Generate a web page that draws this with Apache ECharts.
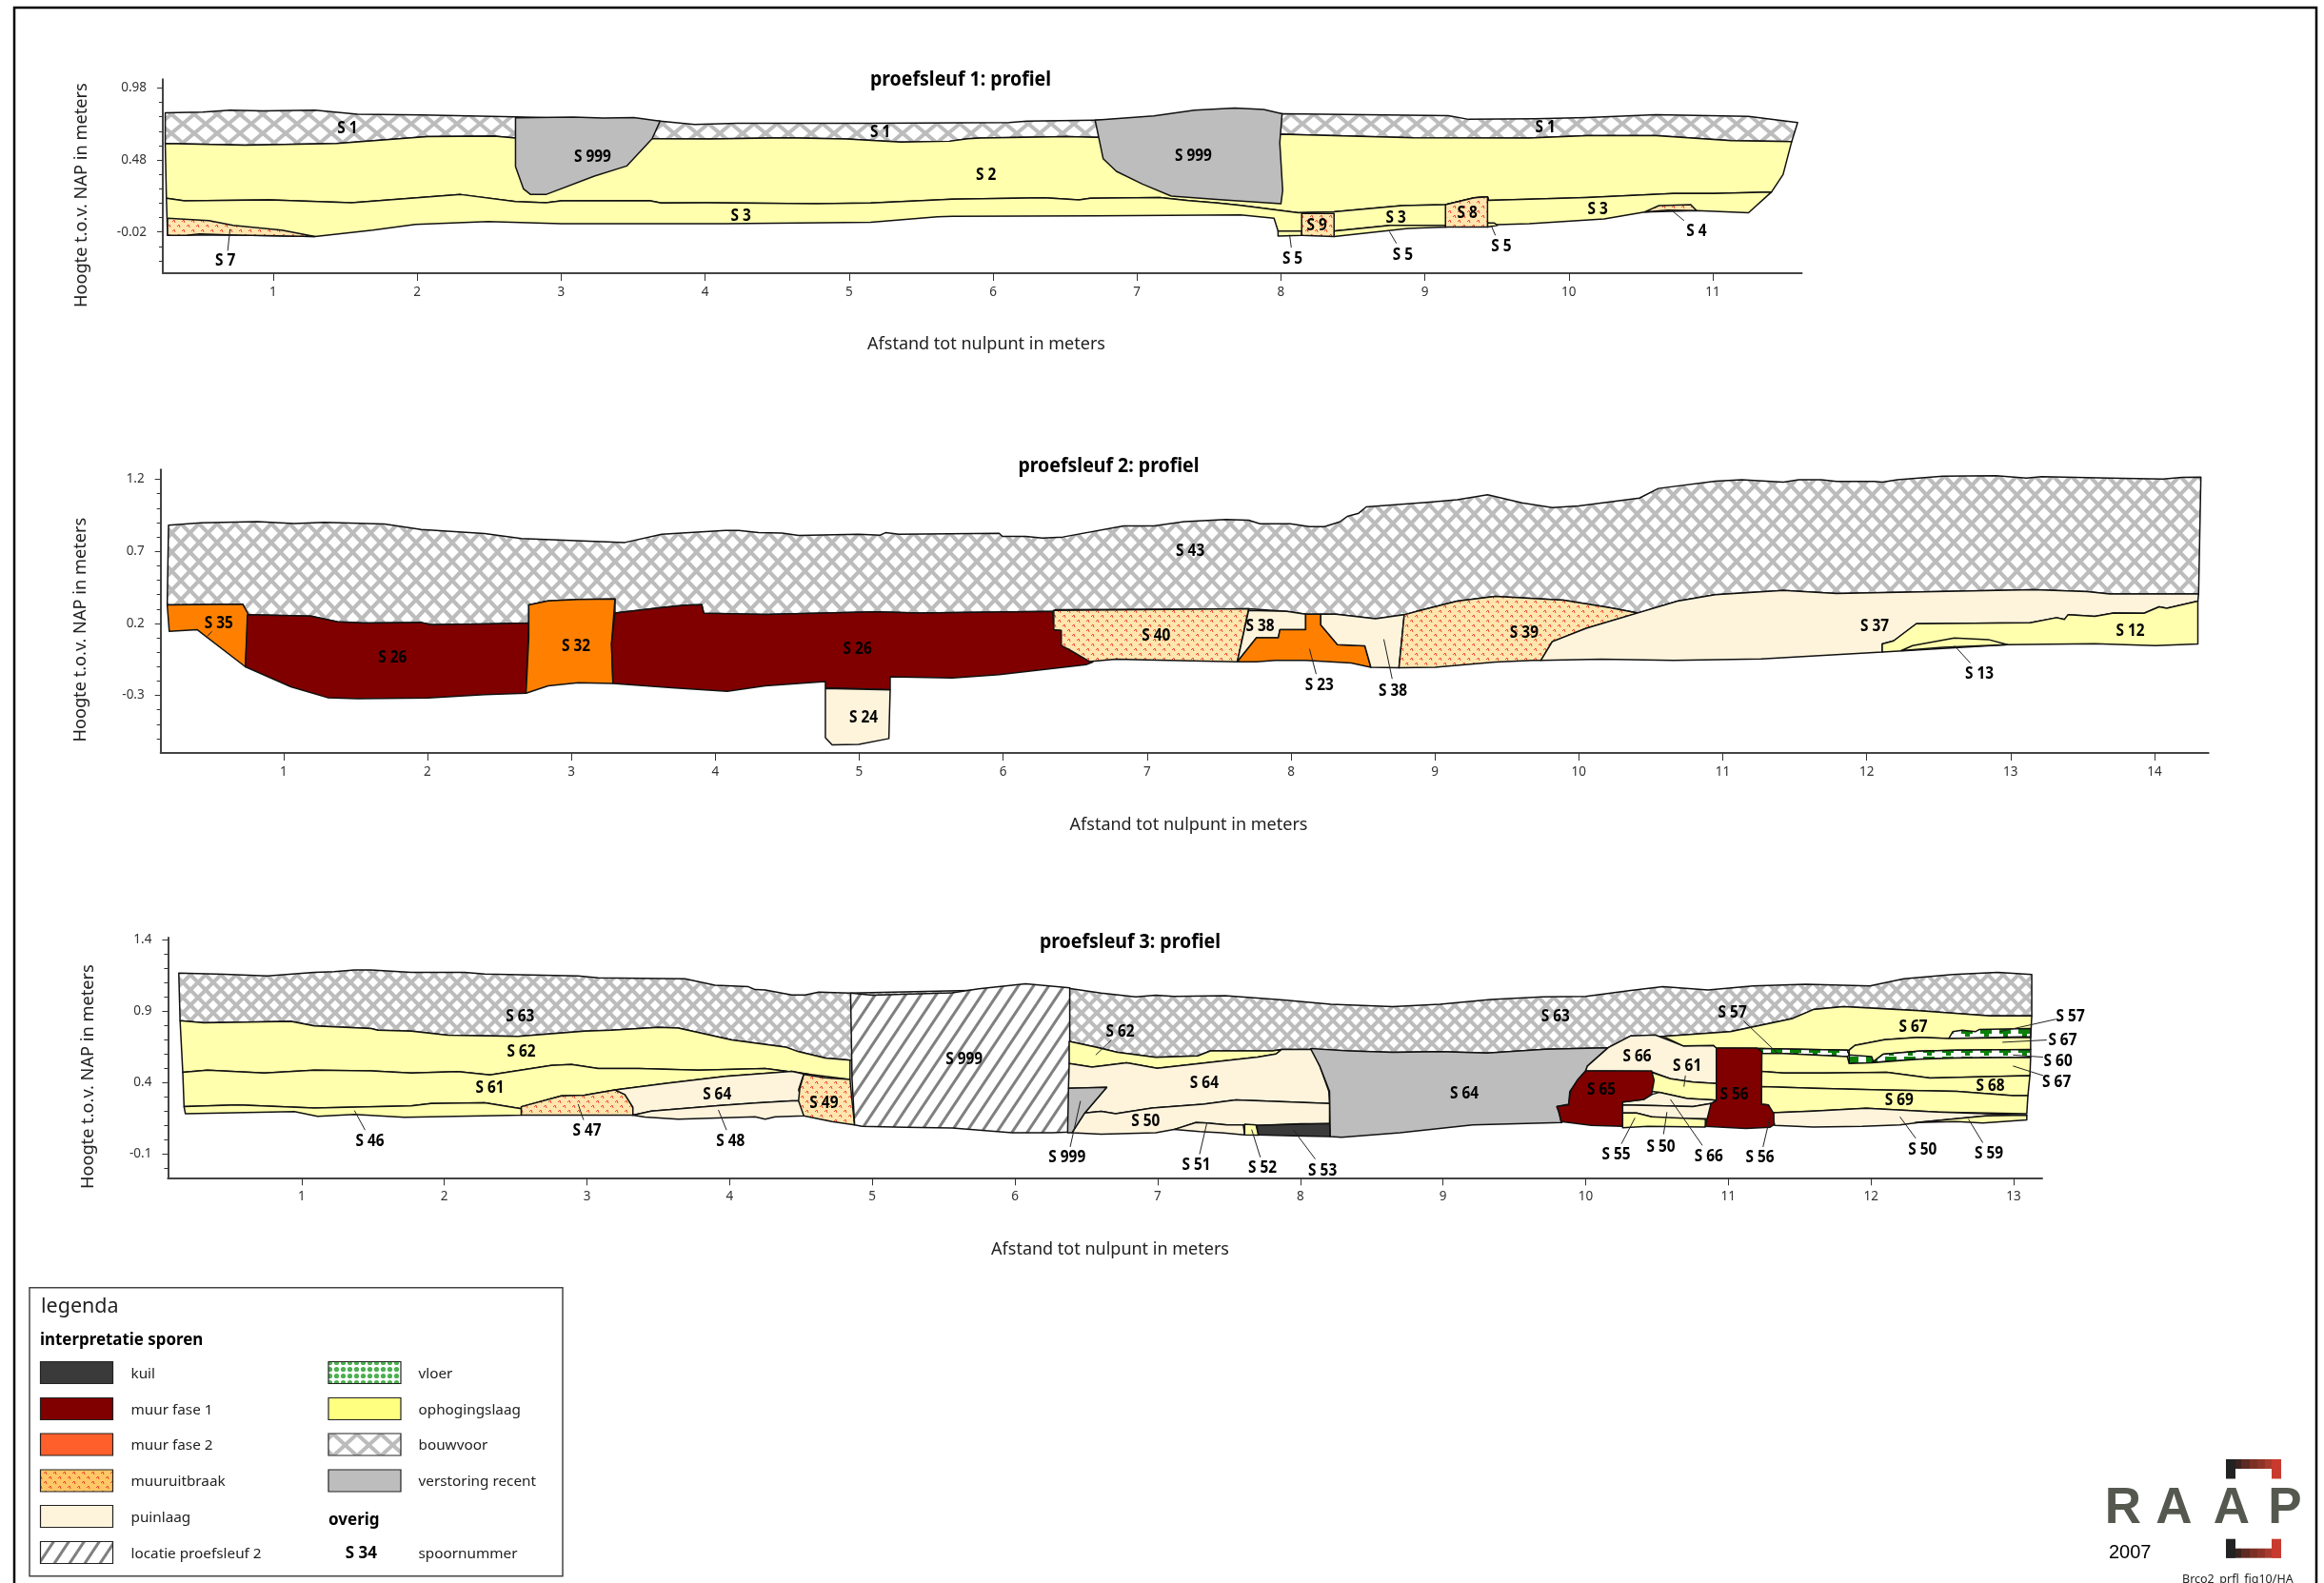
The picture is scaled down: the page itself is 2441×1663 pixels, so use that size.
<!DOCTYPE html>
<html><head><meta charset="utf-8">
<style>html,body{margin:0;padding:0;background:#fff}#c{width:2441px;height:1663px}</style>
<script src="https://cdn.jsdelivr.net/npm/echarts@6/dist/echarts.min.js"></script>
</head><body><div id="c"></div>
<script>
// ---------- tick values ----------
const xTicks1=[1,2,3,4,5,6,7,8,9,10,11];
const xTicks2=[1,2,3,4,5,6,7,8,9,10,11,12,13,14];
const xTicks3=[1,2,3,4,5,6,7,8,9,10,11,12,13];
const yMajor1=[-0.02,0.48,0.98];
const yMinor1=[-0.22,-0.12,0.08,0.18,0.28,0.38,0.58,0.68,0.78,0.88];
const yMajor2=[-0.3,0.2,0.7,1.2];
const yMinor2=[-0.6,-0.5,-0.4,-0.2,-0.1,0,0.1,0.3,0.4,0.5,0.6,0.8,0.9,1,1.1];
const yMajor3=[-0.1,0.4,0.9,1.4];
const yMinor3=[-0.2,0,0.1,0.2,0.3,0.5,0.6,0.7,0.8,1,1.1,1.2,1.3];

// ---------- profile 1 (distance m, height m) ----------
const p1Top=[[0.25,0.808],[0.511,0.812],[0.7,0.826],[0.93,0.821],[1.29,0.826],[1.586,0.797],[2.03,0.793],[2.68,0.779],[3.687,0.749],[3.927,0.727],[4.222,0.735],[5.15,0.735],[6.11,0.74],[6.236,0.749],[6.709,0.757],[8.008,0.801],[9.163,0.788],[9.303,0.762],[9.764,0.766],[10.125,0.775],[10.606,0.795],[11.248,0.782],[11.589,0.74]];
const p1S1Bottom=[[0.25,0.594],[0.806,0.583],[1.439,0.594],[2.071,0.643],[2.535,0.645],[2.683,0.632],[3.632,0.627],[4.032,0.625],[4.56,0.634],[4.981,0.625],[5.361,0.605],[5.698,0.61],[5.825,0.627],[5.915,0.632],[6.516,0.643],[6.709,0.638],[8.0,0.658],[8.922,0.634],[9.724,0.632],[10.125,0.649],[10.606,0.649],[11.127,0.614],[11.548,0.608]];
const p1S3Top=[[0.258,0.214],[0.384,0.196],[0.975,0.203],[1.544,0.183],[2.303,0.24],[2.683,0.192],[2.894,0.183],[3.0,0.196],[3.611,0.198],[3.695,0.181],[4.011,0.183],[4.77,0.176],[5.15,0.181],[5.614,0.203],[5.715,0.207],[6.356,0.218],[6.597,0.203],[6.677,0.214],[7.158,0.22],[7.358,0.198],[7.559,0.181],[7.719,0.165],[8.12,0.114],[8.369,0.121],[8.842,0.163],[9.143,0.17],[9.343,0.218],[9.435,0.225],[9.443,0.2],[10.125,0.22],[10.727,0.247],[11.007,0.247],[11.408,0.258]];
const p1S2Right=[[11.488,0.379]];
const p1S3Bottom=[[11.248,0.114],[10.887,0.128],[10.526,0.119],[10.245,0.07],[9.724,0.037],[9.504,0.031],[9.435,0.042],[9.143,0.015],[8.762,0.026],[8.369,-0.013],[8.144,-0.013],[7.98,-0.013],[7.952,0.075],[7.719,0.099],[6.717,0.092],[5.715,0.088],[5.614,0.086],[5.15,0.048],[4.138,0.037],[3.0,0.037],[2.493,0.053],[1.987,0.033],[1.692,-0.007],[1.29,-0.051],[0.679,-0.04],[0.266,-0.044]];
const p1S7=[[0.266,0.075],[0.553,0.059],[0.722,0.026],[1.059,-0.007],[1.29,-0.051],[0.679,-0.04],[0.49,-0.033],[0.393,-0.044],[0.266,-0.044]];
const p1S5a=[[7.98,-0.013],[8.144,-0.013],[8.144,-0.044],[7.98,-0.048]];
const p1S5b=[[8.369,-0.013],[8.762,0.026],[9.143,0.026],[9.143,0.015],[8.882,0.004],[8.369,-0.051]];
const p1S5c=[[9.435,0.042],[9.483,0.042],[9.504,0.026],[9.435,0.015]];
const p1S9=[[8.144,0.108],[8.369,0.108],[8.369,-0.051],[8.144,-0.044]];
const p1S8=[[9.143,0.17],[9.343,0.218],[9.435,0.225],[9.435,0.015],[9.143,0.015]];
const p1S4=[[10.526,0.119],[10.626,0.163],[10.847,0.17],[10.887,0.128],[10.686,0.132]];
const p1S999a=[[2.683,0.773],[3.083,0.777],[3.294,0.771],[3.505,0.775],[3.687,0.749],[3.632,0.627],[3.455,0.438],[3.231,0.368],[2.894,0.24],[2.788,0.24],[2.738,0.28],[2.683,0.434]];
const p1S999b=[[6.709,0.757],[7.118,0.786],[7.399,0.826],[7.679,0.841],[7.88,0.83],[8.008,0.801],[7.992,0.599],[8.012,0.269],[8.0,0.176],[7.599,0.203],[7.238,0.229],[7.038,0.313],[6.857,0.401],[6.765,0.489]];
const p1Labels=[["S 1",1.515,0.705],["S 1",5.218,0.68],["S 1",9.836,0.709],["S 999",3.218,0.506],["S 999",7.391,0.511],["S 2",5.951,0.379],["S 3",4.248,0.099],["S 3",8.798,0.086],["S 3",10.201,0.143],["S 7",0.667,-0.216],["S 9",8.249,0.031],["S 8",9.295,0.119],["S 5",8.08,-0.198],["S 5",8.846,-0.172],["S 5",9.531,-0.117],["S 4",10.887,-0.011]];
const p1Leaders=[[0.70,0.0,0.684,-0.15],[8.06,-0.04,8.072,-0.128],[8.754,-0.018,8.802,-0.099],[9.46,0.026,9.49,-0.044],[10.72,0.125,10.8,0.059]];

// ---------- profile 2 ----------
const p2Top=[[0.201,0.881],[0.424,0.899],[0.819,0.907],[1.074,0.894],[1.283,0.901],[1.701,0.89],[1.956,0.852],[2.397,0.824],[2.653,0.789],[3.372,0.762],[3.628,0.819],[4.069,0.846],[4.162,0.846],[4.301,0.83],[4.463,0.828],[4.579,0.811],[4.997,0.819],[5.146,0.813],[5.183,0.83],[5.276,0.819],[5.972,0.826],[5.995,0.804],[6.157,0.804],[6.273,0.793],[6.415,0.8],[6.837,0.877],[7.047,0.877],[7.258,0.907],[7.548,0.921],[7.706,0.916],[7.785,0.892],[7.996,0.892],[8.128,0.872],[8.233,0.872],[8.338,0.905],[8.391,0.943],[8.47,0.965],[8.523,1.009],[8.944,1.04],[9.155,1.059],[9.366,1.093],[9.604,1.037],[9.815,1.004],[9.999,1.015],[10.421,1.07],[10.553,1.137],[10.948,1.187],[11.132,1.198],[11.422,1.181],[11.527,1.198],[11.685,1.198],[11.79,1.185],[12.054,1.185],[12.108,1.181],[12.213,1.198],[12.529,1.222],[12.898,1.225],[13.11,1.209],[13.215,1.218],[13.69,1.209],[14.059,1.203],[14.19,1.214],[14.322,1.216]];
const p2S43Bottom=[[0.192,0.328],[0.717,0.333],[0.749,0.26],[1.19,0.251],[1.376,0.211],[1.562,0.203],[1.956,0.207],[2.026,0.192],[2.397,0.196],[2.704,0.203],[2.704,0.328],[2.839,0.357],[3.047,0.366],[3.303,0.37],[3.303,0.273],[3.628,0.311],[3.79,0.326],[3.906,0.33],[3.92,0.271],[4.347,0.262],[5.113,0.28],[5.415,0.273],[6.344,0.284],[6.362,0.295],[7.627,0.3],[7.706,0.302],[7.97,0.284],[8.102,0.264],[8.312,0.264],[8.587,0.233],[8.787,0.26],[8.892,0.289],[9.155,0.355],[9.419,0.388],[9.894,0.361],[10.21,0.311],[10.411,0.273],[10.685,0.355],[10.948,0.399],[11.422,0.43],[11.79,0.407],[13.162,0.434],[13.531,0.421],[13.69,0.405],[14.306,0.405]];
const p2S35=[[0.192,0.328],[0.717,0.333],[0.754,0.267],[0.735,-0.101],[0.401,0.156],[0.206,0.145]];
const p2S26a=[[0.749,0.26],[1.19,0.251],[1.376,0.211],[1.562,0.203],[1.956,0.207],[2.026,0.192],[2.397,0.196],[2.704,0.203],[2.685,-0.284],[2.397,-0.295],[2.003,-0.317],[1.515,-0.322],[1.306,-0.315],[1.051,-0.24],[0.735,-0.101]];
const p2S32=[[2.704,0.328],[2.839,0.357],[3.047,0.366],[3.303,0.37],[3.279,0.057],[3.289,-0.216],[3.047,-0.211],[2.839,-0.233],[2.685,-0.284],[2.704,0.101]];
const p2S26b=[[3.303,0.273],[3.628,0.311],[3.79,0.326],[3.906,0.33],[3.92,0.271],[4.347,0.262],[5.113,0.28],[5.415,0.273],[6.344,0.284],[6.353,0.156],[6.413,0.152],[6.413,0.046],[6.483,0.013],[6.622,-0.068],[6.576,-0.086],[6.39,-0.108],[5.972,-0.156],[5.647,-0.178],[5.215,-0.17],[5.215,-0.26],[4.765,-0.247],[4.765,-0.203],[4.347,-0.233],[4.083,-0.271],[3.697,-0.247],[3.289,-0.216],[3.279,0.057]];
const p2S24=[[4.765,-0.251],[5.215,-0.262],[5.206,-0.599],[4.997,-0.639],[4.812,-0.643],[4.765,-0.593]];
const p2S40=[[6.352,0.291],[7.706,0.302],[7.627,-0.066],[6.995,-0.053],[6.784,-0.048],[6.599,-0.064],[6.468,0.013],[6.404,0.046],[6.404,0.152],[6.352,0.156]];
const p2S38a=[[7.706,0.291],[7.97,0.284],[8.102,0.264],[8.102,0.156],[7.923,0.156],[7.912,0.101],[7.76,0.101],[7.627,-0.066]];
const p2S23=[[8.102,0.264],[8.207,0.264],[8.207,0.189],[8.323,0.053],[8.513,0.044],[8.555,-0.104],[8.418,-0.075],[8.102,-0.057],[7.891,-0.057],[7.76,-0.066],[7.627,-0.066],[7.76,0.101],[7.912,0.101],[7.923,0.156],[8.102,0.156]];
const p2S38b=[[8.207,0.264],[8.312,0.264],[8.587,0.233],[8.787,0.26],[8.75,-0.108],[8.555,-0.104],[8.513,0.044],[8.323,0.053],[8.207,0.189]];
const p2S39=[[8.787,0.26],[8.892,0.289],[9.155,0.355],[9.419,0.388],[9.894,0.361],[10.21,0.311],[10.411,0.273],[10.052,0.167],[9.815,0.073],[9.736,-0.057],[9.683,-0.057],[9.42,-0.068],[9.0,-0.104],[8.75,-0.108]];
const p2S37Top=[[10.411,0.273],[10.685,0.355],[10.948,0.399],[11.422,0.43],[11.79,0.407],[13.162,0.434],[13.531,0.421],[13.69,0.405],[14.306,0.405]];
const p2S12Top=[[12.108,0.057],[12.187,0.079],[12.345,0.198],[13.136,0.205],[13.32,0.24],[13.373,0.227],[13.399,0.26],[13.584,0.249],[13.716,0.273],[13.927,0.271],[14.032,0.315],[14.085,0.306],[14.301,0.355]];
const p2S12Bottom=[[14.301,0.057],[14.006,0.046],[13.584,0.059],[12.978,0.053],[12.108,0.002]];
const p2S37Bottom=[[12.108,0.002],[11.265,-0.046],[10.658,-0.057],[10.158,-0.048],[9.736,-0.057],[9.815,0.073],[10.052,0.167]];
const p2S13=[[12.24,0.011],[12.319,0.046],[12.609,0.099],[12.846,0.088],[12.978,0.053],[12.53,0.035]];
const p2Labels=[["S 35",0.55,0.205],["S 26",1.757,-0.031],["S 32",3.033,0.046],["S 26",4.988,0.026],["S 24",5.03,-0.445],["S 43",7.3,0.711],["S 40",7.063,0.123],["S 38",7.785,0.183],["S 23",8.197,-0.222],["S 38",8.708,-0.262],["S 39",9.62,0.141],["S 37",12.055,0.189],["S 13",12.783,-0.145],["S 12",13.832,0.152]];
const p2Leaders=[[0.503,0.145,0.471,0.112],[8.128,0.024,8.175,-0.152],[8.645,0.09,8.703,-0.185],[12.609,0.046,12.72,-0.075]];

// ---------- profile 3 ----------
const p3Top=[[0.139,1.167],[0.457,1.158],[0.761,1.147],[1.089,1.171],[1.229,1.176],[1.37,1.189],[1.487,1.189],[1.768,1.171],[2.142,1.171],[2.283,1.16],[2.938,1.147],[3.079,1.133],[3.687,1.127],[3.897,1.082],[4.132,1.071],[4.179,1.051],[4.249,1.049],[4.436,1.013],[4.53,1.013],[4.624,1.033],[4.844,1.027],[6.375,1.06],[6.604,1.027],[6.847,1.0],[6.987,1.011],[7.115,1.004],[7.472,1.009],[7.881,0.978],[8.213,0.949],[8.647,0.931],[8.979,0.949],[9.336,0.982],[9.697,1.0],[10.0,1.004],[10.303,1.044],[10.541,1.071],[10.858,1.049],[11.174,1.076],[11.544,1.089],[11.992,1.076],[12.23,1.127],[12.573,1.156],[12.889,1.171],[13.127,1.156]];
const p3S63Bottom=[[0.148,0.833],[0.316,0.818],[0.925,0.829],[1.089,0.796],[1.487,0.778],[1.534,0.767],[1.768,0.76],[2.025,0.731],[2.517,0.724],[2.985,0.76],[3.172,0.767],[3.5,0.787],[3.64,0.782],[4.015,0.698],[4.39,0.649],[4.483,0.616],[4.67,0.571],[4.844,0.556]];
const p3S63BottomRight=[[6.38,0.689],[6.566,0.649],[6.719,0.611],[6.987,0.576],[7.281,0.587],[7.37,0.622],[7.804,0.622],[7.868,0.631],[8.085,0.631],[8.34,0.622],[8.647,0.611],[8.979,0.616],[9.31,0.607],[9.719,0.633],[10.158,0.644],[10.317,0.727],[10.541,0.724],[11.016,0.756],[11.451,0.849],[11.596,0.911],[11.807,0.931],[12.335,0.904],[12.836,0.867],[13.127,0.867]];
const p3S62Bottom=[[0.167,0.471],[0.34,0.487],[0.738,0.467],[1.089,0.487],[1.487,0.482],[1.768,0.467],[2.095,0.476],[2.32,0.453],[2.751,0.52],[2.891,0.527],[3.079,0.498],[3.36,0.498],[3.781,0.487],[4.249,0.498],[4.553,0.458],[4.844,0.422]];
const p3S61Lower=[[4.553,0.458],[4.436,0.478],[3.968,0.444],[3.547,0.393],[3.196,0.349],[2.985,0.311],[2.821,0.307],[2.54,0.231],[2.54,0.216],[2.283,0.258],[1.908,0.253],[1.768,0.236],[1.089,0.222],[0.551,0.244],[0.176,0.231]];
const p3S46=[[0.176,0.231],[0.551,0.244],[1.089,0.222],[1.768,0.236],[1.908,0.253],[2.283,0.258],[2.54,0.216],[2.54,0.171],[1.721,0.156],[1.37,0.176],[1.112,0.164],[0.949,0.196],[0.185,0.182]];
const p3S47=[[2.54,0.231],[2.821,0.307],[2.985,0.311],[3.196,0.349],[3.266,0.316],[3.322,0.227],[3.322,0.171],[2.54,0.171]];
const p3S64a=[[3.196,0.349],[3.547,0.393],[3.968,0.444],[4.436,0.478],[4.52,0.46],[4.483,0.349],[4.507,0.271],[4.436,0.271],[4.179,0.256],[3.921,0.238],[3.453,0.2],[3.322,0.171],[3.322,0.227],[3.266,0.316]];
const p3S48=[[3.322,0.171],[3.453,0.2],[3.921,0.238],[4.179,0.256],[4.436,0.271],[4.507,0.271],[4.52,0.167],[4.319,0.16],[4.249,0.144],[4.179,0.16],[3.64,0.144],[3.406,0.158]];
const p3S49=[[4.52,0.456],[4.67,0.433],[4.844,0.422],[4.858,0.271],[4.876,0.104],[4.717,0.127],[4.52,0.167],[4.483,0.271],[4.492,0.36]];
const p3Hatch=[[4.848,1.027],[4.998,1.011],[5.56,1.029],[5.747,1.056],[6.075,1.091],[6.384,1.064],[6.384,0.053],[6.262,0.049],[5.981,0.049],[5.56,0.082],[5.232,0.087],[4.928,0.093],[4.876,0.104],[4.858,0.427]];
const p3S62b=[[6.38,0.689],[6.566,0.649],[6.719,0.611],[6.987,0.576],[7.281,0.587],[7.37,0.622],[7.804,0.622],[7.868,0.631],[7.83,0.6],[7.702,0.578],[7.37,0.542],[6.997,0.5],[6.783,0.538],[6.54,0.509],[6.38,0.533]];
const p3S64b=[[6.38,0.533],[6.54,0.509],[6.783,0.538],[6.997,0.5],[7.37,0.542],[7.702,0.578],[7.83,0.6],[7.868,0.631],[8.085,0.631],[8.136,0.516],[8.2,0.338],[8.205,0.253],[7.549,0.278],[7.319,0.249],[6.962,0.222],[6.706,0.182],[6.604,0.198],[6.489,0.187],[6.643,0.367],[6.375,0.36]];
const p3S50a=[[6.489,0.187],[6.604,0.198],[6.706,0.182],[6.962,0.222],[7.319,0.249],[7.549,0.278],[8.205,0.253],[8.205,0.111],[8.008,0.111],[7.702,0.1],[7.6,0.104],[7.485,0.104],[7.345,0.116],[7.268,0.12],[7.115,0.071],[6.987,0.049],[6.604,0.038],[6.4,0.049]];
const p3S51=[[7.115,0.071],[7.268,0.12],[7.345,0.116],[7.485,0.104],[7.6,0.104],[7.61,0.033],[7.447,0.049],[7.294,0.056]];
const p3S52=[[7.61,0.109],[7.689,0.104],[7.707,0.031],[7.61,0.033]];
const p3S53=[[7.694,0.1],[8.008,0.109],[8.205,0.113],[8.21,0.022],[7.957,0.027],[7.707,0.033]];
const p3S999c=[[6.375,0.36],[6.643,0.367],[6.489,0.187],[6.4,0.049],[6.369,0.049]];
const p3S64c=[[8.072,0.638],[8.34,0.622],[8.647,0.611],[8.979,0.616],[9.31,0.607],[9.719,0.633],[10.158,0.644],[10.013,0.516],[10.0,0.482],[9.942,0.416],[9.889,0.338],[9.881,0.249],[9.802,0.233],[9.828,0.127],[9.834,0.12],[9.208,0.104],[8.698,0.049],[8.289,0.016],[8.21,0.022],[8.205,0.338],[8.136,0.516]];
const p3S66a=[[10.013,0.516],[10.158,0.644],[10.317,0.727],[10.488,0.733],[10.686,0.656],[10.897,0.66],[10.916,0.642],[10.916,0.393],[10.752,0.404],[10.594,0.427],[10.462,0.476],[10.0,0.482]];
const p3S61b=[[10.462,0.471],[10.594,0.427],[10.752,0.404],[10.916,0.393],[10.916,0.276],[10.712,0.289],[10.515,0.331],[10.462,0.338]];
const p3S66b=[[10.259,0.264],[10.409,0.282],[10.462,0.316],[10.515,0.331],[10.712,0.289],[10.916,0.276],[10.879,0.253],[10.752,0.231],[10.488,0.238],[10.259,0.244]];
const p3S50b=[[10.259,0.244],[10.488,0.238],[10.752,0.231],[10.879,0.253],[10.871,0.149],[10.62,0.144],[10.462,0.16],[10.356,0.187],[10.259,0.187]];
const p3S55=[[10.259,0.187],[10.356,0.187],[10.462,0.16],[10.839,0.144],[10.839,0.089],[10.435,0.093],[10.259,0.084]];
const p3S65=[[10.0,0.482],[10.462,0.482],[10.48,0.416],[10.462,0.316],[10.409,0.282],[10.259,0.264],[10.259,0.093],[10.04,0.1],[9.828,0.127],[9.815,0.189],[9.797,0.231],[9.881,0.244],[9.894,0.338],[9.942,0.416]];
const p3S67a=[[10.541,0.724],[11.016,0.756],[11.451,0.849],[11.596,0.911],[11.807,0.931],[12.335,0.904],[12.836,0.867],[13.127,0.867],[13.119,0.716],[12.546,0.709],[12.335,0.716],[12.095,0.7],[11.887,0.66],[11.847,0.627],[11.227,0.638],[10.916,0.642],[10.897,0.66],[10.686,0.656]];
const p3S57r=[[12.546,0.709],[12.573,0.756],[12.639,0.767],[12.731,0.756],[12.758,0.771],[13.119,0.778],[13.119,0.722]];
const p3S67b=[[11.847,0.627],[11.887,0.66],[12.095,0.7],[12.335,0.716],[12.546,0.709],[13.119,0.716],[13.119,0.631],[12.599,0.627],[12.335,0.62],[12.084,0.598],[12.005,0.538],[11.847,0.593]];
const p3FloorL=[[11.214,0.638],[11.834,0.627],[11.847,0.593],[11.834,0.582],[11.596,0.593],[11.385,0.604],[11.232,0.604]];
const p3FloorR=[[11.847,0.593],[11.847,0.533],[12.005,0.538],[12.084,0.598],[12.335,0.62],[12.599,0.627],[13.119,0.631],[13.119,0.576],[12.599,0.571],[12.335,0.564],[12.018,0.542],[12.005,0.582]];
const p3S67c=[[11.232,0.604],[11.385,0.604],[11.596,0.593],[11.834,0.582],[11.847,0.533],[12.005,0.538],[12.335,0.564],[12.599,0.571],[13.119,0.576],[13.114,0.449],[12.414,0.431],[12.111,0.471],[11.676,0.467],[11.385,0.467],[11.232,0.478]];
const p3S68=[[11.232,0.478],[11.385,0.467],[11.676,0.467],[12.111,0.471],[12.414,0.431],[13.114,0.449],[13.1,0.309],[12.995,0.309],[12.599,0.338],[12.071,0.349],[11.596,0.36],[11.232,0.371]];
const p3S69=[[11.232,0.371],[11.596,0.36],[12.071,0.349],[12.599,0.338],[12.995,0.309],[13.1,0.309],[13.092,0.182],[12.467,0.193],[11.966,0.22],[11.596,0.2],[11.306,0.189],[11.28,0.244],[11.232,0.249]];
const p3S50c=[[11.306,0.189],[11.596,0.2],[11.966,0.22],[12.467,0.193],[13.092,0.171],[12.807,0.167],[12.388,0.127],[12.203,0.104],[11.939,0.093],[11.596,0.089],[11.325,0.1]];
const p3S59=[[13.092,0.171],[12.807,0.167],[12.388,0.127],[12.309,0.12],[12.599,0.127],[12.784,0.116],[13.092,0.138]];
const p3S56=[[10.916,0.642],[11.201,0.642],[11.235,0.616],[11.232,0.249],[11.28,0.244],[11.319,0.182],[11.319,0.104],[11.293,0.087],[11.124,0.078],[10.839,0.093],[10.879,0.253],[10.916,0.271]];
const p3Labels=[["S 63",2.531,0.871],["S 62",2.54,0.622],["S 61",2.32,0.369],["S 46",1.478,-0.007],["S 47",3.0,0.067],["S 64",3.912,0.32],["S 48",4.006,-0.007],["S 49",4.661,0.264],["S 999",5.644,0.567],["S 999",6.365,-0.118],["S 62",6.737,0.764],["S 64",7.327,0.404],["S 50",6.916,0.133],["S 51",7.271,-0.173],["S 52",7.735,-0.191],["S 53",8.156,-0.213],["S 64",9.15,0.329],["S 63",9.788,0.871],["S 66",10.361,0.591],["S 61",10.712,0.52],["S 65",10.111,0.356],["S 56",11.042,0.32],["S 57",11.029,0.898],["S 67",12.296,0.793],["S 57",13.398,0.867],["S 67",13.343,0.7],["S 60",13.311,0.558],["S 67",13.301,0.409],["S 68",12.836,0.382],["S 69",12.198,0.28],["S 55",10.214,-0.098],["S 50",10.528,-0.042],["S 66",10.863,-0.111],["S 56",11.222,-0.118],["S 50",12.361,-0.067],["S 59",12.826,-0.093]];
const p3Leaders=[[1.37,0.204,1.445,0.067],[2.938,0.249,2.976,0.138],[3.921,0.209,3.978,0.067],[6.459,0.271,6.387,-0.051],[6.676,0.698,6.566,0.593],[7.345,0.116,7.294,-0.102],[7.659,0.071,7.72,-0.124],[7.952,0.067,8.105,-0.136],[11.108,0.831,11.346,0.604],[10.699,0.449,10.689,0.371],[10.346,0.153,10.251,-0.029],[10.57,0.193,10.546,0.038],[10.594,0.282,10.818,-0.04],[11.293,0.16,11.243,-0.051],[12.203,0.16,12.314,0.009],[12.683,0.144,12.784,-0.022],[12.902,0.756,13.298,0.844],[12.921,0.682,13.232,0.698],[12.995,0.593,13.206,0.578],[12.995,0.516,13.206,0.449]];

// ---------- legend ----------
const legendLeft=[["kuil","kuil"],["muur fase 1","muur1"],["muur fase 2","muur2"],["muuruitbraak","braakL"],["puinlaag","puin"],["locatie proefsleuf 2","hatch"]];
const legendRight=[["vloer","vloerL"],["ophogingslaag","yellowL"],["bouwvoor","bouwL"],["verstoring recent","grey"]];
const panelTitles=["proefsleuf 1: profiel","proefsleuf 2: profiel","proefsleuf 3: profiel"];
const xName="Afstand tot nulpunt in meters", yName="Hoogte t.o.v. NAP in meters";

// ---------- patterns ----------
function tile(w,h,draw){const c=document.createElement('canvas');c.width=w;c.height=h;const g=c.getContext('2d');draw(g,w,h);return {image:c,repeat:'repeat'};}
function bouw(w,h,lw){return tile(w,h,(g)=>{g.fillStyle='#fff';g.fillRect(0,0,w,h);g.strokeStyle='#bcbcbc';g.lineWidth=lw;g.beginPath();g.moveTo(0,h/2);g.lineTo(w/2,0);g.lineTo(w,h/2);g.lineTo(w/2,h);g.closePath();g.moveTo(-w/2,0);g.lineTo(0,h/2);g.moveTo(w/2,0);g.stroke();});}
function braak(bg,fg){return tile(10,10,(g)=>{g.fillStyle=bg;g.fillRect(0,0,10,10);g.strokeStyle=fg;g.lineWidth=1;[[1,3,3,1],[3,1,4,4],[6,8,8,6],[8,6,9,9]].forEach(s=>{g.beginPath();g.moveTo(s[0],s[1]);g.lineTo(s[2],s[3]);g.stroke();});});}
const hatchPat=tile(16,24,(g)=>{g.fillStyle='#fff';g.fillRect(0,0,16,24);g.strokeStyle='#808080';g.lineWidth=3;[[-8,36,24,-12],[-24,36,8,-12],[8,36,40,-12]].forEach(s=>{g.beginPath();g.moveTo(s[0],s[1]);g.lineTo(s[2],s[3]);g.stroke();});});
const FILL={
 yellow:'#FFFFAE', puin:'#FEF4DC', muur1:'#800000', orange:'#FF8000', grey:'#BDBDBD', kuil:'#3A3A3A', muur2:'#FF5F2A', yellowL:'#FFFF80',
 bouw1:bouw(24,20,4), bouw2:bouw(19,20,4), bouw3:bouw(16,16,4), bouwL:bouw(25,23,4),
 braak:braak('#FFE6AE','#F0452C'), braakL:braak('#FFC766','#E8402A'), hatch:hatchPat,
 vloer:tile(20,10,(g)=>{g.fillStyle='#fff';g.fillRect(0,0,20,10);g.fillStyle='#0A800A';g.fillRect(0,0,12,6);g.fillRect(4,6,5,3);}),
 vloerL:tile(7,7,(g)=>{g.fillStyle='#fff';g.fillRect(0,0,7,7);g.fillStyle='#4CAF50';g.beginPath();g.arc(3.5,3.5,2.6,0,7);g.fill();})
};
const rev=a=>a.slice().reverse();

// ---------- layers, back to front ----------
const layers=[
 [0,'bouw1',[...p1Top,...rev(p1S1Bottom)]],
 [0,'yellow',[...p1S1Bottom,...p1S2Right,...rev(p1S3Top)]],
 [0,'yellow',[...p1S3Top,...p1S3Bottom]],
 [0,'braak',p1S7],[0,'yellow',p1S5a],[0,'yellow',p1S5b],[0,'yellow',p1S5c],
 [0,'braak',p1S9],[0,'braak',p1S8],[0,'braak',p1S4],[0,'grey',p1S999a],[0,'grey',p1S999b],
 [1,'bouw2',[...p2Top,...rev(p2S43Bottom)]],
 [1,'orange',p2S35],[1,'muur1',p2S26a],[1,'orange',p2S32],[1,'muur1',p2S26b],[1,'puin',p2S24],
 [1,'braak',p2S40],[1,'puin',p2S38a],[1,'orange',p2S23],[1,'puin',p2S38b],[1,'braak',p2S39],
 [1,'puin',[...p2S37Top,...rev(p2S12Top),...p2S37Bottom]],
 [1,'yellow',[...p2S12Top,...p2S12Bottom]],[1,'yellow',p2S13],
 [2,'bouw3',[...p3Top,...p3S63BottomRight.slice().reverse(),...rev(p3S63Bottom)]],
 [2,'yellow',[...p3S63Bottom,...rev(p3S62Bottom)]],
 [2,'yellow',[...p3S62Bottom.slice(0,15),...p3S61Lower.slice(1)]],
 [2,'yellow',p3S46],[2,'braak',p3S47],[2,'puin',p3S64a],[2,'puin',p3S48],[2,'braak',p3S49],[2,'hatch',p3Hatch],
 [2,'yellow',p3S62b],[2,'puin',p3S64b],[2,'puin',p3S50a],[2,'puin',p3S51],[2,'yellow',p3S52],[2,'kuil',p3S53],[2,'grey',p3S999c],[2,'grey',p3S64c],
 [2,'puin',p3S66a],[2,'yellow',p3S61b],[2,'puin',p3S66b],[2,'puin',p3S50b],[2,'yellow',p3S55],[2,'muur1',p3S65],
 [2,'yellow',p3S67a],[2,'vloer',p3S57r],[2,'yellow',p3S67b],[2,'vloer',p3FloorL],[2,'vloer',p3FloorR],[2,'yellow',p3S67c],[2,'yellow',p3S68],[2,'yellow',p3S69],[2,'puin',p3S50c],[2,'yellow',p3S59],[2,'muur1',p3S56]
];

const series=layers.map(([i,f,pts])=>({type:'custom',xAxisIndex:i,yAxisIndex:i*2,silent:true,data:pts,encode:{x:0,y:1},
 renderItem:(p,api)=>p.dataIndex?null:{type:'polygon',shape:{points:pts.map(q=>api.coord(q))},style:{fill:FILL[f],stroke:'#111',lineWidth:1.5,lineJoin:'round'}}}));
[[p1Leaders,p1Labels],[p2Leaders,p2Labels],[p3Leaders,p3Labels]].forEach(([ld,lb],i)=>{
 series.push({type:'custom',xAxisIndex:i,yAxisIndex:i*2,silent:true,data:ld,encode:{x:[0,2],y:[1,3]},
  renderItem:(p,api)=>{const s=ld[p.dataIndex],a=api.coord([s[0],s[1]]),b=api.coord([s[2],s[3]]);return {type:'line',shape:{x1:a[0],y1:a[1],x2:b[0],y2:b[1]},style:{stroke:'#222',lineWidth:1}};}});
 series.push({type:'custom',xAxisIndex:i,yAxisIndex:i*2,silent:true,data:lb.map(r=>[r[1],r[2]]),encode:{x:0,y:1},z:5,
  renderItem:(p,api)=>{const c=api.coord([lb[p.dataIndex][1],lb[p.dataIndex][2]]);return {type:'text',x:c[0],y:c[1]+1,scaleX:0.88,style:{text:lb[p.dataIndex][0],x:0,y:0,align:'center',verticalAlign:'middle',fill:'#000',font:'bold 17.5px "Noto Sans"'}};}});
});

// ---------- axes ----------
const T={color:'#333',fontFamily:'Noto Sans',fontSize:13.5};
const grids=[{left:171,top:83.3,width:1721.5,height:203.7},{left:168.7,top:493.3,width:2151,height:297.7},{left:176.4,top:985,width:1968.6,height:252.3}];
const xR=[[0.233,11.618],[0.146,14.375],[0.063,13.2]];
const yR=[[-0.306,1.04],[-0.699,1.268],[-0.267,1.415]];
const xT=[xTicks1,xTicks2,xTicks3],yM=[yMajor1,yMajor2,yMajor3],ym=[yMinor1,yMinor2,yMinor3];
const line={show:true,onZero:false,lineStyle:{color:'#444',width:2}};
const xAxis=grids.map((g,i)=>({type:'value',gridIndex:i,min:xR[i][0],max:xR[i][1],splitLine:{show:false},axisLine:line,
 axisTick:{show:true,length:8,lineStyle:{color:'#333',width:1},customValues:xT[i]},
 axisLabel:{...T,margin:13,customValues:xT[i],formatter:v=>String(v)}}));
const yAxis=[];
grids.forEach((g,i)=>{
 yAxis.push({type:'value',gridIndex:i,min:yR[i][0],max:yR[i][1],splitLine:{show:false},axisLine:line,
  axisTick:{show:true,length:6,lineStyle:{color:'#333',width:1},customValues:yM[i]},
  axisLabel:{...T,margin:17,padding:[3,0,0,0],customValues:yM[i],formatter:v=>String(v)}});
 yAxis.push({type:'value',gridIndex:i,min:yR[i][0],max:yR[i][1],position:'left',splitLine:{show:false},axisLine:{show:false,onZero:false},
  axisTick:{show:true,length:4,lineStyle:{color:'#333',width:1},customValues:ym[i]},axisLabel:{show:false}});
});

// ---------- page furniture ----------
const txt=(s,x,y,font,o={})=>({type:'text',x,y:y+1.2,rotation:o.rot||0,scaleX:o.sx||1,silent:true,style:{text:s,x:0,y:0,font,fill:o.fill||'#222',align:o.align||'center',verticalAlign:'middle'}});
const rect=(x,y,w,h,fill,stroke,lw)=>({type:'rect',silent:true,shape:{x,y,width:w,height:h},style:{fill:fill||'none',stroke:stroke||'none',lineWidth:lw||1}});
const NS='"Noto Sans"';
const g=[
 rect(15,8,2418,1700,'none','#000',2.5),
 txt(panelTitles[0],1009,82.5,`bold 21px ${NS}`,{fill:'#000',sx:0.93}),
 txt(panelTitles[1],1164.5,489,`bold 21px ${NS}`,{fill:'#000',sx:0.93}),
 txt(panelTitles[2],1187,988.6,`bold 21px ${NS}`,{fill:'#000',sx:0.93}),
 txt(xName,1036,361,`18px ${NS}`),txt(xName,1248.5,865.6,`18px ${NS}`),txt(xName,1166,1312,`18px ${NS}`),
 txt(yName,85.5,204,`18.2px ${NS}`,{rot:Math.PI/2}),txt(yName,84.5,660.5,`18.2px ${NS}`,{rot:Math.PI/2}),txt(yName,93,1130,`18.2px ${NS}`,{rot:Math.PI/2}),
 rect(31,1352.7,560,303,'#fff','#444',1.5),
 txt('legenda',43,1371.7,`21.5px ${NS}`,{align:'left'}),
 txt('interpretatie sporen',42,1406.7,`bold 16.9px ${NS}`,{align:'left',fill:'#000'}),
 txt('overig',345,1595.7,`bold 17px ${NS}`,{align:'left',fill:'#000'}),
 txt('S 34',379.4,1631,`bold 17px ${NS}`,{fill:'#000'}),
 txt('spoornummer',439.5,1631,`15.3px ${NS}`,{align:'left'})
];
const rowY=[1430.5,1468.5,1506,1544,1581.5,1619.5];
legendLeft.forEach((r,i)=>{g.push(rect(42.5,rowY[i],76,23,FILL[r[1]],'#222',1.2));g.push(txt(r[0],137.5,rowY[i]+11.5,`15.3px ${NS}`,{align:'left'}));});
legendRight.forEach((r,i)=>{g.push(rect(345,rowY[i],76,23,FILL[r[1]],'#222',1.2));g.push(txt(r[0],439.5,rowY[i]+11.5,`15.3px ${NS}`,{align:'left'}));});
// RAAP logo
const logoCols=[[2338,10,'#222'],[2348,6,'#3a2320'],[2354,9,'#5e2a22'],[2363,8,'#7a3026'],[2371,8,'#8f3328'],[2379,7,'#a83a2e'],[2386,10,'#c83a2e']];
logoCols.forEach(c=>{g.push(rect(c[0],1533,c[1],10,c[2]));g.push(rect(c[0],1626.7,c[1],10,c[2]));});
g.push(rect(2338,1533,10,20.5,'#222'),rect(2386,1533,10,20.5,'#c83a2e'),rect(2338,1616.7,10,20,'#222'),rect(2386,1616.7,10,20,'#c83a2e'));
[['R',2230],['A',2283.5],['A',2344],['P',2400]].forEach(l=>g.push(txt(l[0],l[1],1584,'bold 53px "Liberation Sans"',{fill:'#55584f'})));
g.push(txt('2007',2215,1630,'20px "Liberation Sans"',{align:'left',fill:'#000'}));
g.push(txt('Brco2_prfl_fig10/HA',2292,1658,'12.5px "Noto Sans"',{align:'left'}));

const chart=echarts.init(document.getElementById('c'),null,{renderer:'canvas',width:2441,height:1663});
chart.setOption({animation:false,backgroundColor:'#fff',grid:grids,xAxis,yAxis,series,graphic:{elements:g}});
</script></body></html>
